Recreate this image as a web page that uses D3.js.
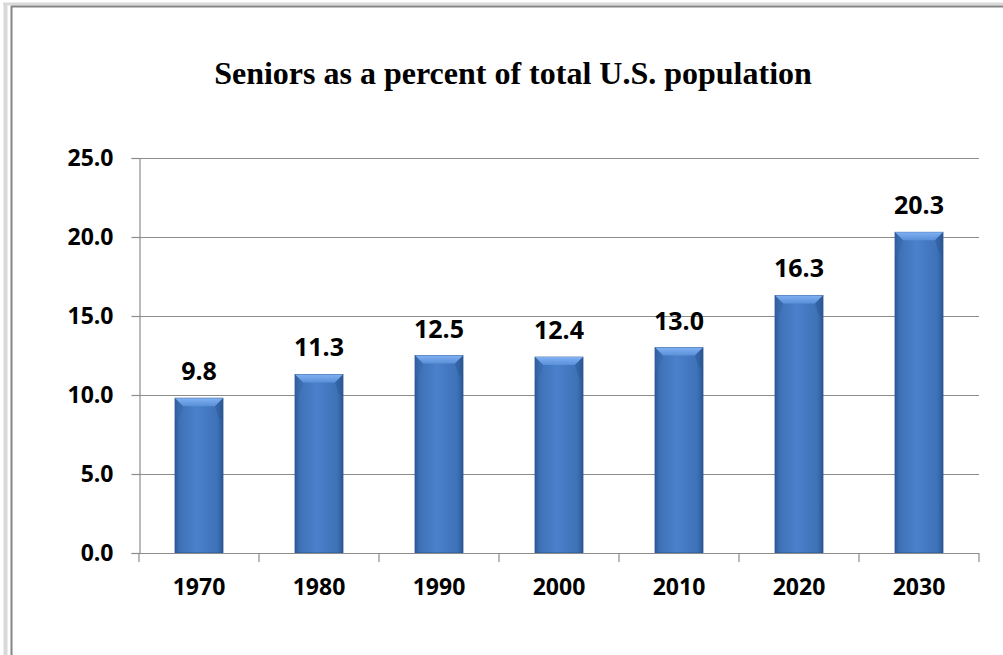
<!DOCTYPE html>
<html>
<head>
<meta charset="utf-8">
<script src="https://cdn.jsdelivr.net/npm/d3@7"></script>
<style>
  body { margin: 0; background: #fff; }
  svg { display: block; }
</style>
</head>
<body>
<svg id="chart"></svg>
<script>
// data
const years = ["1970", "1980", "1990", "2000", "2010", "2020", "2030"];
const seniorPct = [9.8, 11.3, 12.5, 12.4, 13.0, 16.3, 20.3];
const yTicks = [0, 5, 10, 15, 20, 25];
const chartTitle = "Seniors as a percent of total U.S. population";

const WIDTH = 1003;
const HEIGHT = 655;
const plotLeft = 139, plotRight = 979, plotTop = 158, plotBottom = 553;
const labelFont = "'Open Sans', sans-serif";

const svg = d3.select("#chart")
    .attr("width", WIDTH)
    .attr("height", HEIGHT);

// frame
svg.append("rect").attr("x", 0).attr("y", 0).attr("width", WIDTH).attr("height", HEIGHT).attr("fill", "#fff");
svg.append("line").attr("x1", 5.5).attr("x2", 5.5).attr("y1", 3).attr("y2", HEIGHT)
    .attr("stroke", "#d9d9d9").attr("stroke-width", 4);
svg.append("line").attr("x1", 3).attr("x2", WIDTH).attr("y1", 4).attr("y2", 4)
    .attr("stroke", "#d9d9d9").attr("stroke-width", 3);
svg.append("line").attr("x1", 11.5).attr("x2", 11.5).attr("y1", 6).attr("y2", HEIGHT)
    .attr("stroke", "#858585").attr("stroke-width", 2);
svg.append("line").attr("x1", 11).attr("x2", WIDTH).attr("y1", 6.5).attr("y2", 6.5)
    .attr("stroke", "#858585").attr("stroke-width", 2);

const x = d3.scaleBand().domain(years).range([plotLeft, plotRight]).padding(0);
const y = d3.scaleLinear().domain([0, 25]).range([plotBottom, plotTop]);
const barW = x.bandwidth() * 0.4;

// gradients
const defs = svg.append("defs");
const g1 = defs.append("linearGradient").attr("id", "barGrad")
    .attr("x1", "0%").attr("x2", "100%").attr("y1", "0%").attr("y2", "0%");
g1.append("stop").attr("offset", "0%").attr("stop-color", "#2c5a98");
g1.append("stop").attr("offset", "10%").attr("stop-color", "#3e71b7");
g1.append("stop").attr("offset", "45%").attr("stop-color", "#4a81ca");
g1.append("stop").attr("offset", "88%").attr("stop-color", "#3e72b8");
g1.append("stop").attr("offset", "100%").attr("stop-color", "#2b5893");
const g2 = defs.append("linearGradient").attr("id", "bevelGrad")
    .attr("x1", "0%").attr("x2", "0%").attr("y1", "0%").attr("y2", "100%");
g2.append("stop").attr("offset", "0%").attr("stop-color", "#7fb0f2");
g2.append("stop").attr("offset", "100%").attr("stop-color", "#5a90d8");

// gridlines
svg.append("g").selectAll("line")
    .data(yTicks)
    .join("line")
    .attr("x1", plotLeft).attr("x2", plotRight)
    .attr("y1", d => Math.round(y(d)) + 0.5).attr("y2", d => Math.round(y(d)) + 0.5)
    .attr("stroke", "#8c8c8c").attr("stroke-width", 1.2);

// bars
const bars = svg.append("g").selectAll("g")
    .data(years.map((d, i) => ({ year: d, value: seniorPct[i] })))
    .join("g");

bars.append("rect")
    .attr("x", d => x(d.year) + (x.bandwidth() - barW) / 2)
    .attr("y", d => y(d.value))
    .attr("width", barW)
    .attr("height", d => y(0) - y(d.value))
    .attr("fill", "url(#barGrad)")
    .attr("stroke", "#2a5490")
    .attr("stroke-width", 0.8);

// top bevel
bars.append("path")
    .attr("d", d => {
        const x0 = x(d.year) + (x.bandwidth() - barW) / 2, x1 = x0 + barW, t = y(d.value), b = 8;
        return `M${x0},${t}L${x1},${t}L${x1 - b},${t + b}L${x0 + b},${t + b}Z`;
    })
    .attr("fill", "url(#bevelGrad)");
bars.append("path")
    .attr("d", d => {
        const x0 = x(d.year) + (x.bandwidth() - barW) / 2, t = y(d.value), b = 8;
        return `M${x0},${t}L${x0 + b},${t + b}L${x0 + 5},${t + 18}L${x0},${t + 24}Z`;
    })
    .attr("fill", "#3566a8").attr("opacity", 0.5);
bars.append("path")
    .attr("d", d => {
        const x1 = x(d.year) + (x.bandwidth() + barW) / 2, t = y(d.value), b = 8;
        return `M${x1},${t}L${x1 - b},${t + b}L${x1 - 5},${t + 18}L${x1},${t + 24}Z`;
    })
    .attr("fill", "#2b5893").attr("opacity", 0.5);

// value labels
bars.append("text")
    .attr("x", d => x(d.year) + x.bandwidth() / 2)
    .attr("y", d => y(d.value) - 18)
    .attr("text-anchor", "middle")
    .style("font-family", labelFont)
    .style("font-weight", "700")
    .style("font-size", "25px")
    .text(d => d3.format(".1f")(d.value));

// y axis
const yAxis = svg.append("g")
    .attr("transform", `translate(${plotLeft + 0.5},0)`)
    .call(d3.axisLeft(y).tickValues(yTicks).tickFormat(d3.format(".1f")).tickSize(8).tickPadding(18));
yAxis.selectAll("path, line").attr("stroke", "#8c8c8c").attr("stroke-width", 1.2);
yAxis.selectAll("text")
    .style("font-family", labelFont)
    .style("font-weight", "700")
    .style("font-size", "23px")
    .attr("fill", "#000");

// x axis
const xAxis = svg.append("g")
    .attr("transform", `translate(0,${plotBottom + 0.5})`)
    .call(d3.axisBottom(x).tickSize(0).tickPadding(25));
xAxis.select("path").attr("stroke", "#8c8c8c").attr("stroke-width", 1.2).attr("d", `M${plotLeft},0H${plotRight}`);
xAxis.selectAll("text")
    .style("font-family", labelFont)
    .style("font-weight", "700")
    .style("font-size", "23px")
    .attr("fill", "#000");
svg.append("g").selectAll("line")
    .data(years.concat(["end"]))
    .join("line")
    .attr("x1", (d, i) => plotLeft + i * x.step()).attr("x2", (d, i) => plotLeft + i * x.step())
    .attr("y1", plotBottom).attr("y2", plotBottom + 9)
    .attr("stroke", "#8c8c8c").attr("stroke-width", 1.2);

// title
svg.append("text")
    .attr("x", 513)
    .attr("y", 84)
    .attr("text-anchor", "middle")
    .style("font-family", "'Liberation Serif', 'Times New Roman', serif")
    .style("font-weight", "700")
    .style("font-size", "32px")
    .text(chartTitle);
</script>
</body>
</html>
